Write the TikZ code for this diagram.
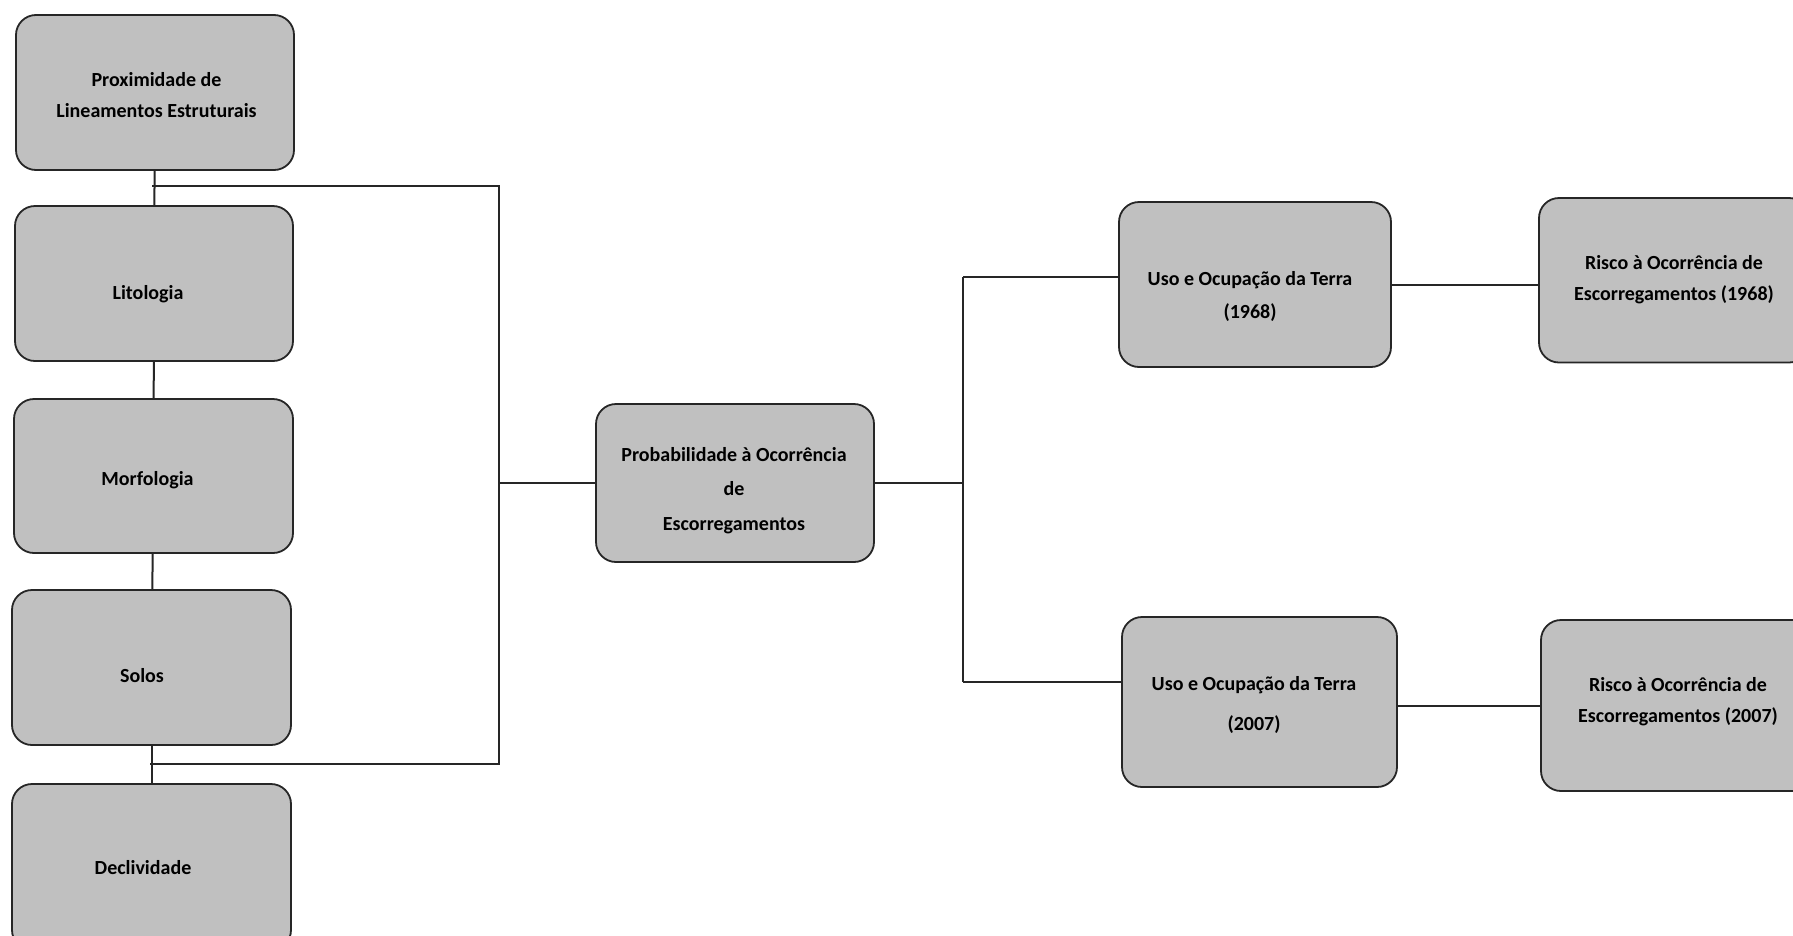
\documentclass[tikz,border=0pt]{standalone}
\usepackage{fontspec}
\setmainfont{Carlito}
\begin{document}
\begin{tikzpicture}[x=1pt,y=-1pt,
  box/.style={draw=black!85,line width=1.8pt,fill=boxgray,rounded corners=20pt,inner sep=0pt},
  lbl/.style={align=center,inner sep=0pt,font=\fontsize{20}{31}\selectfont\bfseries},
  conn/.style={draw=black!85,line width=2pt}]
\definecolor{boxgray}{RGB}{192,192,192}
\clip (0,0) rectangle (1793,935);
\fill[white] (0,0) rectangle (1793,935);
% left column
\node[box,minimum width=278pt,minimum height=155pt] (p1) at (155,92.5) {};
\node[lbl] (t1) at (156.5,95.5) {Proximidade de\\Lineamentos Estruturais};
\node[box,minimum width=278pt,minimum height=155pt] (p2) at (154,283.5) {};
\node[lbl] (t2) at (148,294.5) {Litologia};
\node[box,minimum width=279pt,minimum height=154pt] (p3) at (153.5,476) {};
\node[lbl] (t3) at (147.5,480.5) {Morfologia};
\node[box,minimum width=279pt,minimum height=155pt] (p4) at (151.5,667.5) {};
\node[lbl] (t4) at (142,676) {Solos};
\node[box,minimum width=279pt,minimum height=166pt] (p5) at (151.5,867) {};
\node[lbl] (t5) at (143,868) {Declividade};
% centre
\node[box,minimum width=278pt,minimum height=158pt] (prob) at (735,483) {};
\node[lbl,font=\fontsize{20}{34.3}\selectfont\bfseries] (tp) at (734,490.5) {Probabilidade à Ocorrência\\de\\Escorregamentos};
% right
\node[box,minimum width=272pt,minimum height=165pt] (u1) at (1255,284.5) {};
\node[lbl,font=\fontsize{20}{33}\selectfont\bfseries] (tu1) at (1250,296) {Uso e Ocupação da Terra\\(1968)};
\node[box,minimum width=275pt,minimum height=170pt] (u2) at (1259.5,702) {};
\node[lbl,font=\fontsize{20}{40}\selectfont\bfseries] (tu2) at (1254,705) {Uso e Ocupação da Terra\\(2007)};
\node[box,minimum width=270pt,minimum height=164.5pt] (r1) at (1674,280.25) {};
\node[lbl] (tr1) at (1674,280) {Risco à Ocorrência de\\Escorregamentos (1968)};
\node[box,minimum width=274pt,minimum height=171pt] (r2) at (1678,705.5) {};
\node[lbl] (tr2) at (1678,701.5) {Risco à Ocorrência de\\Escorregamentos (2007)};
% connectors left
\draw[conn] (p1) -- (p2);
\draw[conn] (p2) -- (p3);
\draw[conn] (p3) -- (p4);
\draw[conn] (p4) -- (p5);
\coordinate (bt) at (152,186);
\coordinate (jt) at (499,186);
\coordinate (jb) at (499,764);
\coordinate (bb) at (150,764);
\draw[conn] (bt) -- (jt) -- (jb) -- (bb);
\draw[conn] (jt |- prob.west) -- (prob.west);
% connectors right
\coordinate (kt) at (963,277);
\coordinate (kb) at (963,681.5);
\draw[conn] (prob.east) -- (prob.east -| kt);
\draw[conn] (kt) -- (kb);
\draw[conn] (kt) -- (kt -| u1.west);
\draw[conn] (kb) -- (kb -| u2.west);
\draw[conn] (u1.east) -- (u1.east -| r1.west);
\draw[conn] (u2.east |- r2.west) -- (r2.west);
\end{tikzpicture}
\end{document}
